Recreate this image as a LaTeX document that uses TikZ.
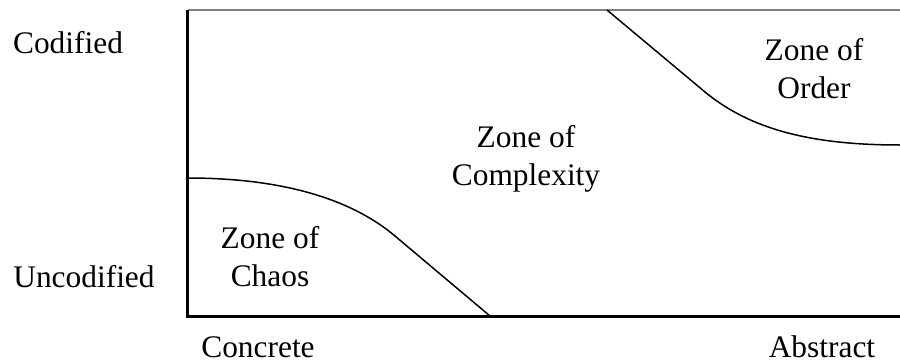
\documentclass[tikz,border=0pt]{standalone}
\usepackage{fontspec}
\setmainfont{Liberation Serif}
\begin{document}
\begin{tikzpicture}[x=1pt,y=-1pt,
  lbl/.style={inner sep=0pt,anchor=base,align=center,font=\fontsize{31.4}{37.5}\selectfont},
  axis/.style={line width=3pt},
  curve/.style={line width=1.5pt}]
\useasboundingbox (0,0) rectangle (900,364);
\coordinate (tl) at (187.5,10);
\coordinate (bl) at (187.5,316);
\coordinate (br) at (900,316);
\coordinate (tr) at (900,10);
\draw[gray,line width=1.3pt] (tl) -- (tr);
\draw[axis] (tl) -- (bl) -- (br);
\coordinate (oa) at (607,10);
\coordinate (om) at (705,92);
\coordinate (ob) at (900,145);
\draw[curve] (oa) -- (om) .. controls (750,129) and (810,145) .. (ob);
\coordinate (ca) at (187.5,178);
\coordinate (cm) at (395,236);
\coordinate (cb) at (490,316);
\draw[curve] (ca) .. controls (280,178) and (350,198) .. (cm) -- (cb);
\node[lbl] (cod) at (68,53) {Codified};
\node[lbl] (unc) at (84,287) {Uncodified};
\node[lbl] (con) at (258,357) {Concrete};
\node[lbl] (abs) at (822,357) {Abstract};
\node[lbl] (chaos) at (270,286) {Zone of\\Chaos};
\node[lbl] (order) at (814,98) {Zone of\\Order};
\node[lbl] (cplx) at (526,185) {Zone of\\Complexity};
\end{tikzpicture}
\end{document}
